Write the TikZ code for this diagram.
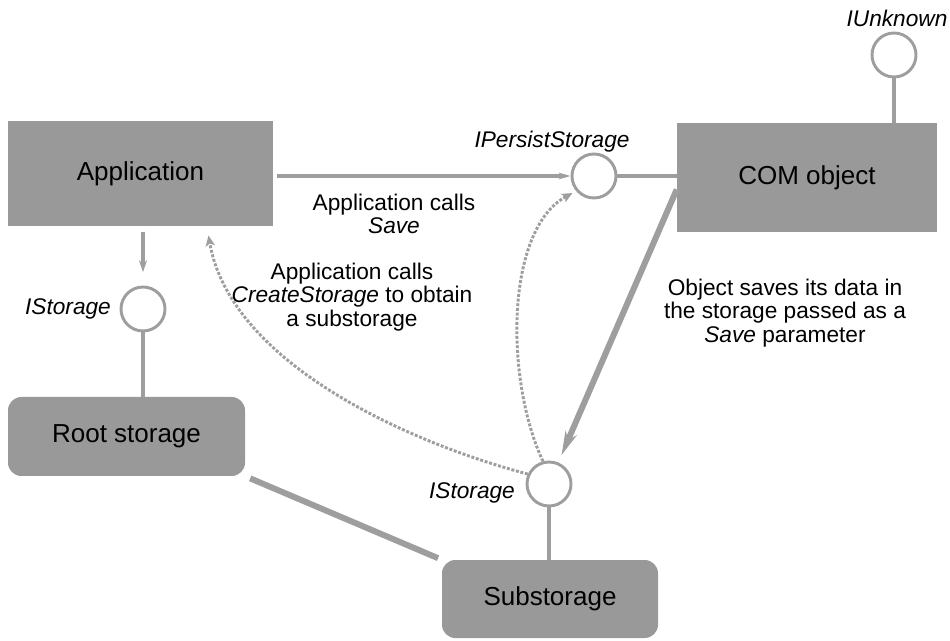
\documentclass[tikz,border=0pt]{standalone}
\usepackage{fontspec}
\setmainfont{Liberation Sans}
\usetikzlibrary{arrows.meta,calc}

\definecolor{boxgray}{RGB}{153,153,153}
\definecolor{linegray}{RGB}{158,158,158}

\begin{document}
\begin{tikzpicture}[x=0.75pt,y=-0.75pt,
  box/.style={fill=boxgray, draw=none, inner sep=0pt,
    font=\fontsize{19.5}{22}\selectfont},
  roundbox/.style={box, rounded corners=10pt},
  iface/.style={circle, draw=linegray, line width=2.2pt, fill=white,
    minimum size=33pt, inner sep=0pt},
  link/.style={draw=linegray, line width=2.6pt},
  heavy/.style={draw=linegray, line width=4.5pt},
  call/.style={draw=linegray, line width=2.2pt, dash pattern=on 2.2pt off 1.3pt,
    -{Stealth[length=8pt,width=7pt,inset=2pt,fill=linegray]}},
  note/.style={align=center, font=\fontsize{17}{17.6}\selectfont},
  tag/.style={font=\fontsize{17}{18}\selectfont\itshape}]

\useasboundingbox (0,0) rectangle (950,641);

% main blocks
\node[box, minimum width=198.75pt, minimum height=78.75pt] (app) at (140.5,173.5) {Application};
\node[box, minimum width=195pt, minimum height=81.75pt] (com) at (807,177.5) {COM object};
\node[roundbox, minimum width=177.75pt, minimum height=59.25pt] (root) at (126.5,436.5) {Root storage};
\node[roundbox, minimum width=162pt, minimum height=58.5pt] (sub) at (550,599) {Substorage};

% interface lollipops
\node[iface] (ps) at (594,176) {};
\node[iface] (uk) at (894,55) {};
\node[iface] (isl) at (143,309) {};
\node[iface] (isb) at (549,484) {};

% interface names
\node[tag] (pslbl) at (552,142) {IPersistStorage};
\node[tag] (uklbl) at (897,18) {IUnknown};
\node[tag] (isllbl) at (68,309) {IStorage};
\node[tag] (isblbl) at (472,493) {IStorage};

% lollipop stems
\draw[link] (ps.east) -- (com.west |- ps);
\draw[link] (uk.south) -- (com.north -| uk);
\draw[link] (isl.south) -- (root.north -| isl);
\draw[link] (isb.south) -- (sub.north -| isb);

% Save call
\draw[link, shorten <=3pt, -{Stealth[length=9pt,width=5pt]}] (app.east |- ps) -- (ps.west);

% application holds the root storage
\draw[link, shorten <=4pt, shorten >=10pt, -{Stealth[length=9pt,width=6pt]}]
  (app.south -| isl) -- (isl.north);

% root storage contains the substorage
\draw[heavy, shorten <=4pt, shorten >=3pt] (root.south east) -- (sub.north west);

% object writes into the substorage
\coordinate (comout) at ([yshift=-9pt]com.west);
\draw[heavy, shorten >=6pt, -{Stealth[length=18pt,width=9pt]}] (comout) -- (isb);

% CreateStorage call back to the application
\coordinate (appin) at ($(app.south)!0.5!(app.south east)$);
\draw[call, shorten >=7pt] (isb.155) .. controls (400,440) and (230,360) .. (appin);

% substorage passed as the Save parameter
\draw[call, shorten >=3pt] (isb.105) .. controls (505,380) and (505,230) .. (ps.220);

% annotations
\node[note] (n1) at (394,214) {Application calls\\\textit{Save}};
\node[note] (n2) at (352,297) {Application calls\\\textit{CreateStorage} to obtain\\a substorage};
\node[note] (n3) at (785,313) {Object saves its data in\\the storage passed as a\\\textit{Save} parameter};

\end{tikzpicture}
\end{document}
